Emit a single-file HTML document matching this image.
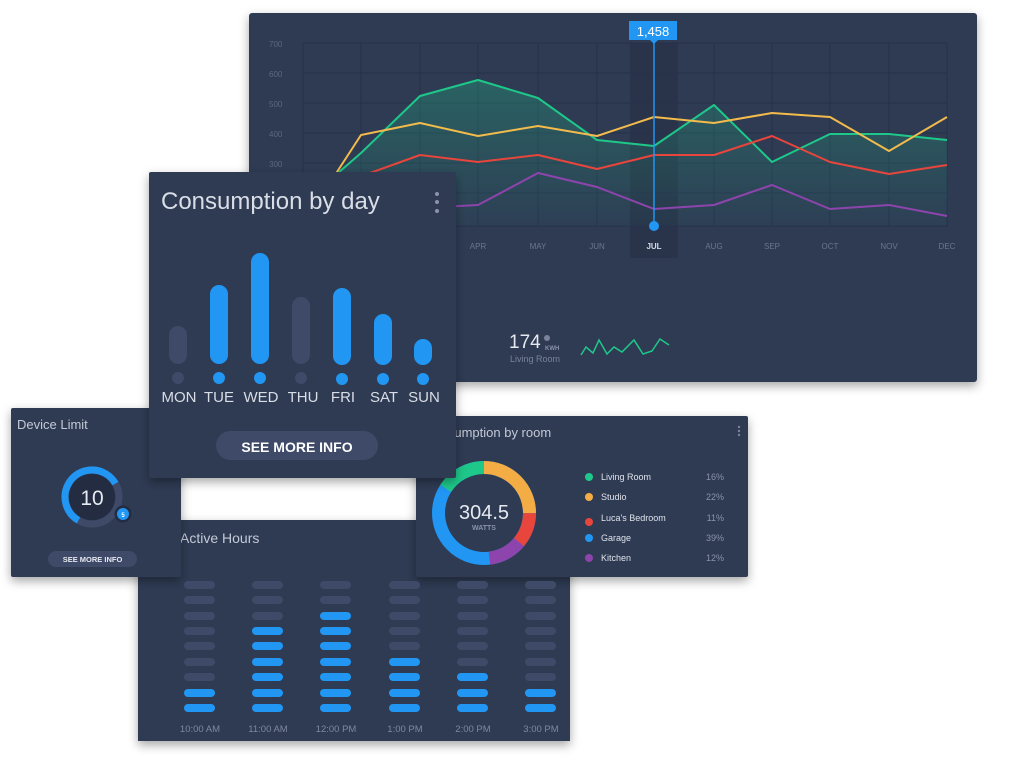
<!DOCTYPE html>
<html><head><meta charset="utf-8"><style>
html,body{margin:0;padding:0;background:#fff;width:1024px;height:772px;overflow:hidden}
svg{display:block;font-family:"Liberation Sans",sans-serif}
</style></head><body>
<svg width="1024" height="772" viewBox="0 0 1024 772" xmlns="http://www.w3.org/2000/svg">
<defs>
<filter id="sh" x="-10%" y="-10%" width="120%" height="130%"><feDropShadow dx="0" dy="4" stdDeviation="5" flood-color="#000" flood-opacity="0.35"/></filter>
<linearGradient id="gf" x1="0" y1="0" x2="0" y2="1"><stop offset="0" stop-color="#1ec88a" stop-opacity="0.28"/><stop offset="1" stop-color="#1ec88a" stop-opacity="0.03"/></linearGradient>
</defs>

<rect x="249" y="13" width="728" height="369" rx="3" fill="#2f3a52" filter="url(#sh)"/>
<rect x="630" y="43" width="48" height="215" fill="#29334a"/>
<g stroke="#26304a" stroke-width="1">
<line x1="303" y1="43" x2="947" y2="43"/><line x1="303" y1="73" x2="947" y2="73"/><line x1="303" y1="103" x2="947" y2="103"/><line x1="303" y1="133" x2="947" y2="133"/><line x1="303" y1="163" x2="947" y2="163"/><line x1="303" y1="193" x2="947" y2="193"/><line x1="303" y1="226" x2="947" y2="226"/>
<line x1="303" y1="43" x2="303" y2="226"/><line x1="361" y1="43" x2="361" y2="226"/><line x1="420" y1="43" x2="420" y2="226"/><line x1="478" y1="43" x2="478" y2="226"/><line x1="538" y1="43" x2="538" y2="226"/><line x1="597" y1="43" x2="597" y2="226"/><line x1="714" y1="43" x2="714" y2="226"/><line x1="772" y1="43" x2="772" y2="226"/><line x1="830" y1="43" x2="830" y2="226"/><line x1="889" y1="43" x2="889" y2="226"/><line x1="947" y1="43" x2="947" y2="226"/>
</g>
<g fill="#5d6782" font-size="8">
<text x="269" y="47">700</text><text x="269" y="77">600</text><text x="269" y="107">500</text><text x="269" y="137">400</text><text x="269" y="167">300</text>
</g>
<g fill="#6b7590" font-size="8" text-anchor="middle">
<text x="478" y="249">APR</text><text x="538" y="249">MAY</text><text x="597" y="249">JUN</text><text x="654" y="249" fill="#d8dce6" font-weight="bold">JUL</text><text x="714" y="249">AUG</text><text x="772" y="249">SEP</text><text x="830" y="249">OCT</text><text x="889" y="249">NOV</text><text x="947" y="249">DEC</text>
</g>
<polygon fill="url(#gf)" points="330,180 361,153 420,96 478,80 538,98 597,140 654,146 714,105 772,162 830,134 889,134 947,140 947,226 330,226"/>
<g fill="none" stroke-width="2" stroke-linejoin="round">
<polyline stroke="#1ec88a" points="330,180 361,153 420,96 478,80 538,98 597,140 654,146 714,105 772,162 830,134 889,134 947,140"/>
<polyline stroke="#f3bb4c" points="335,175 361,135 420,123 478,136 538,126 597,136 654,117 714,123 772,113 830,117 889,151 947,117"/>
<polyline stroke="#e8453c" points="340,185 370,173 420,155 478,162 538,155 597,169 654,155 714,155 772,136 830,162 889,174 947,165"/>
<polyline stroke="#8e44ad" points="440,207 478,205 538,173 597,187 654,209 714,205 772,185 830,209 889,205 947,216"/>
</g>
<line x1="654" y1="40" x2="654" y2="226" stroke="#2196f3" stroke-width="1.5"/>
<circle cx="654" cy="226" r="5" fill="#2196f3"/>
<rect x="629" y="21" width="48" height="19" fill="#2196f3"/>
<polygon points="650,40 658,40 654,44" fill="#2196f3"/>
<text x="653" y="36" fill="#fff" font-size="13" text-anchor="middle">1,458</text>
<text x="509" y="348" fill="#e6e9f0" font-size="19">174</text>
<circle cx="547" cy="338" r="3" fill="#7a839a"/>
<text x="545" y="350" fill="#8a93a8" font-size="6" font-weight="bold">KWH</text>
<text x="510" y="362" fill="#7a839a" font-size="9">Living Room</text>
<polyline fill="none" stroke="#1ec88a" stroke-width="1.5" points="581,355 586,347 593,353 599,340 607,354 614,347 622,352 634,340 643,354 652,351 660,339 669,345"/>

<rect x="138" y="520" width="432" height="221" fill="#2f3a52" filter="url(#sh)"/>
<text x="180" y="543" fill="#c4c9d6" font-size="14">Active Hours</text>
<g font-size="9.5" fill="#7f889e" text-anchor="middle">
<text x="200" y="732">10:00 AM</text><text x="268" y="732">11:00 AM</text><text x="336" y="732">12:00 PM</text><text x="405" y="732">1:00 PM</text><text x="473" y="732">2:00 PM</text><text x="541" y="732">3:00 PM</text>
</g>

<rect x="416" y="416" width="332" height="161" rx="2" fill="#2f3a52" filter="url(#sh)"/>
<text x="424" y="437" fill="#c4c9d6" font-size="13">Consumption by room</text>
<g fill="#7a839a"><circle cx="739" cy="427" r="1.2"/><circle cx="739" cy="431" r="1.2"/><circle cx="739" cy="435" r="1.2"/></g>
<g fill="none" stroke-width="13" transform="rotate(-90 484 513)">
<circle cx="484" cy="513" r="45.5" stroke="#2196f3"/>
<circle cx="484" cy="513" r="45.5" stroke="#f4ac45" stroke-dasharray="71.5 300"/>
<circle cx="484" cy="513" r="45.5" stroke="#e8453c" stroke-dasharray="0 71.5 31.4 300"/>
<circle cx="484" cy="513" r="45.5" stroke="#8e44ad" stroke-dasharray="0 102.9 34.3 300"/>
<circle cx="484" cy="513" r="45.5" stroke="#1ec88a" stroke-dasharray="0 240 45.9 300"/>
</g>
<text x="484" y="519" fill="#e6e9f0" font-size="20" text-anchor="middle">304.5</text>
<text x="484" y="530" fill="#8a93a8" font-size="7" font-weight="bold" text-anchor="middle">WATTS</text>
<g font-size="9" fill="#dfe3ec">
<circle cx="589" cy="477" r="4" fill="#1ec88a"/><text x="601" y="480">Living Room</text>
<circle cx="589" cy="497" r="4" fill="#f4ac45"/><text x="601" y="500">Studio</text>
<circle cx="589" cy="522" r="4" fill="#e8453c"/><text x="601" y="521">Luca's Bedroom</text>
<circle cx="589" cy="538" r="4" fill="#2196f3"/><text x="601" y="541">Garage</text>
<circle cx="589" cy="558" r="4" fill="#8e44ad"/><text x="601" y="561">Kitchen</text>
</g>
<g font-size="9" fill="#8a93a8" text-anchor="end">
<text x="724" y="480">16%</text><text x="724" y="500">22%</text><text x="724" y="521">11%</text><text x="724" y="541">39%</text><text x="724" y="561">12%</text>
</g>

<rect x="11" y="408" width="170" height="169" rx="2" fill="#2f3a52" filter="url(#sh)"/>
<text x="17" y="429" fill="#c4c9d6" font-size="13">Device Limit</text>
<circle cx="92" cy="497" r="27" fill="none" stroke="#3e4a67" stroke-width="7"/>
<circle cx="92" cy="497" r="27" fill="none" stroke="#2196f3" stroke-width="7" stroke-dasharray="99 200" transform="rotate(120 92 497)"/>
<circle cx="92" cy="497" r="23" fill="#232c41"/>
<text x="92" y="505" fill="#e6e9f0" font-size="21" text-anchor="middle">10</text>
<circle cx="123" cy="514" r="8.5" fill="#232c41"/>
<circle cx="123" cy="514" r="6" fill="#2196f3"/>
<text x="123" y="517" fill="#fff" font-size="6" text-anchor="middle" font-weight="bold">5</text>
<rect x="48" y="551" width="89" height="16" rx="8" fill="#3e4a67"/>
<text x="92.5" y="562" fill="#e6e9f0" font-size="7.5" font-weight="bold" text-anchor="middle">SEE MORE INFO</text>

<rect x="149" y="172" width="307" height="306" rx="2" fill="#2f3a52" filter="url(#sh)"/>
<text x="161" y="209" fill="#d9dde6" font-size="24">Consumption by day</text>
<g fill="#8a93a8"><circle cx="437" cy="194" r="2"/><circle cx="437" cy="202" r="2"/><circle cx="437" cy="211" r="2"/></g>
<g>
<rect x="169" y="326" width="18" height="38" rx="9" fill="#3e4a67"/>
<rect x="210" y="285" width="18" height="79" rx="9" fill="#2196f3"/>
<rect x="251" y="253" width="18" height="111" rx="9" fill="#2196f3"/>
<rect x="292" y="297" width="18" height="67" rx="9" fill="#3e4a67"/>
<rect x="333" y="288" width="18" height="77" rx="9" fill="#2196f3"/>
<rect x="374" y="314" width="18" height="51" rx="9" fill="#2196f3"/>
<rect x="414" y="339" width="18" height="26" rx="9" fill="#2196f3"/>
<circle cx="178" cy="378" r="6" fill="#3e4a67"/><circle cx="219" cy="378" r="6" fill="#2196f3"/><circle cx="260" cy="378" r="6" fill="#2196f3"/><circle cx="301" cy="378" r="6" fill="#3e4a67"/><circle cx="342" cy="379" r="6" fill="#2196f3"/><circle cx="383" cy="379" r="6" fill="#2196f3"/><circle cx="423" cy="379" r="6" fill="#2196f3"/>
</g>
<g fill="#d9dde6" font-size="15" text-anchor="middle">
<text x="179" y="402">MON</text><text x="219" y="402">TUE</text><text x="261" y="402">WED</text><text x="303" y="402">THU</text><text x="343" y="402">FRI</text><text x="384" y="402">SAT</text><text x="424" y="402">SUN</text>
</g>
<rect x="216" y="431" width="162" height="29" rx="14.5" fill="#3e4a67"/>
<text x="297" y="452" fill="#fff" font-size="14" font-weight="bold" text-anchor="middle">SEE MORE INFO</text>

<g>
<g fill="#3e4a67">
<rect x="184" y="581" width="31" height="8" rx="4"/><rect x="184" y="596" width="31" height="8" rx="4"/><rect x="184" y="612" width="31" height="8" rx="4"/><rect x="184" y="627" width="31" height="8" rx="4"/><rect x="184" y="642" width="31" height="8" rx="4"/><rect x="184" y="658" width="31" height="8" rx="4"/><rect x="184" y="673" width="31" height="8" rx="4"/>
<rect x="252" y="581" width="31" height="8" rx="4"/><rect x="252" y="596" width="31" height="8" rx="4"/><rect x="252" y="612" width="31" height="8" rx="4"/>
<rect x="320" y="581" width="31" height="8" rx="4"/><rect x="320" y="596" width="31" height="8" rx="4"/>
<rect x="389" y="581" width="31" height="8" rx="4"/><rect x="389" y="596" width="31" height="8" rx="4"/><rect x="389" y="612" width="31" height="8" rx="4"/><rect x="389" y="627" width="31" height="8" rx="4"/><rect x="389" y="642" width="31" height="8" rx="4"/>
<rect x="457" y="581" width="31" height="8" rx="4"/><rect x="457" y="596" width="31" height="8" rx="4"/><rect x="457" y="612" width="31" height="8" rx="4"/><rect x="457" y="627" width="31" height="8" rx="4"/><rect x="457" y="642" width="31" height="8" rx="4"/><rect x="457" y="658" width="31" height="8" rx="4"/>
<rect x="525" y="581" width="31" height="8" rx="4"/><rect x="525" y="596" width="31" height="8" rx="4"/><rect x="525" y="612" width="31" height="8" rx="4"/><rect x="525" y="627" width="31" height="8" rx="4"/><rect x="525" y="642" width="31" height="8" rx="4"/><rect x="525" y="658" width="31" height="8" rx="4"/><rect x="525" y="673" width="31" height="8" rx="4"/>
</g>
<g fill="#2196f3">
<rect x="184" y="689" width="31" height="8" rx="4"/><rect x="184" y="704" width="31" height="8" rx="4"/>
<rect x="252" y="627" width="31" height="8" rx="4"/><rect x="252" y="642" width="31" height="8" rx="4"/><rect x="252" y="658" width="31" height="8" rx="4"/><rect x="252" y="673" width="31" height="8" rx="4"/><rect x="252" y="689" width="31" height="8" rx="4"/><rect x="252" y="704" width="31" height="8" rx="4"/>
<rect x="320" y="612" width="31" height="8" rx="4"/><rect x="320" y="627" width="31" height="8" rx="4"/><rect x="320" y="642" width="31" height="8" rx="4"/><rect x="320" y="658" width="31" height="8" rx="4"/><rect x="320" y="673" width="31" height="8" rx="4"/><rect x="320" y="689" width="31" height="8" rx="4"/><rect x="320" y="704" width="31" height="8" rx="4"/>
<rect x="389" y="658" width="31" height="8" rx="4"/><rect x="389" y="673" width="31" height="8" rx="4"/><rect x="389" y="689" width="31" height="8" rx="4"/><rect x="389" y="704" width="31" height="8" rx="4"/>
<rect x="457" y="673" width="31" height="8" rx="4"/><rect x="457" y="689" width="31" height="8" rx="4"/><rect x="457" y="704" width="31" height="8" rx="4"/>
<rect x="525" y="689" width="31" height="8" rx="4"/><rect x="525" y="704" width="31" height="8" rx="4"/>
</g>
</g>
</svg>
</body></html>
